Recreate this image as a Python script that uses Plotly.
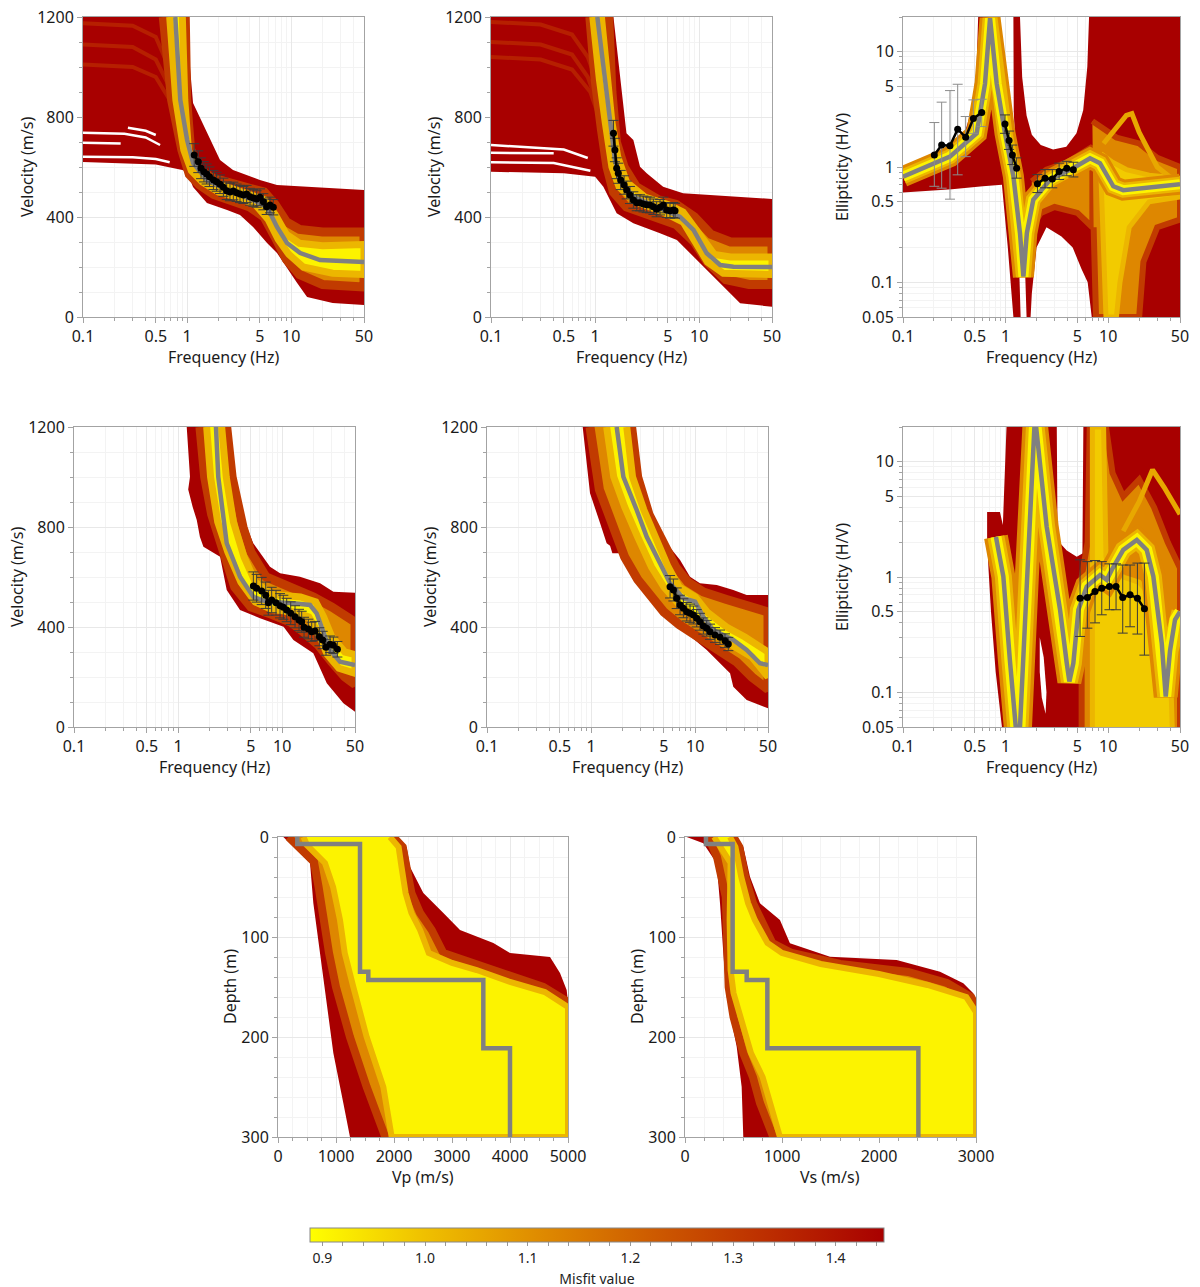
import math
import plotly.graph_objects as go
from plotly.colors import sample_colorscale

W, H = 1200, 1287

# ================= misfit colour scale =================
MISFIT_MIN = 0.888
MISFIT_MAX = 1.447
MISFIT_SCALE = [[0.0, '#ffff00'], [0.2, '#efc000'], [0.4, '#df8b00'],
                [0.6, '#cd5a00'], [0.8, '#bc2d00'], [1.0, '#a80000']]
M_RED, M_MID, M_ORANGE, M_GOLD, M_YELLOW = 1.447, 1.30, 1.12, 1.02, 0.91
M_STREAK = 1.05
M_RED_STREAK = 1.37

# ================= axis ticks =================
FREQ_TICKS = [0.1, 0.5, 1, 5, 10, 50]
FREQ_LABELS = ['0.1', '0.5', '1', '5', '10', '50']
FREQ_MINOR = [0.2, 0.3, 0.4, 0.6, 0.7, 0.8, 0.9, 2, 3, 4, 6, 7, 8, 9, 20, 30, 40]
VEL_TICKS = [0, 400, 800, 1200]
ELL_TICKS = [0.05, 0.1, 0.5, 1, 5, 10]
ELL_LABELS = ['0.05', '0.1', '0.5', '1', '5', '10']
ELL_MINOR = [0.06, 0.07, 0.08, 0.09, 0.2, 0.3, 0.4, 0.6, 0.7, 0.8, 0.9, 2, 3, 4, 6, 7, 8, 9, 20]
DEPTH_TICKS = [0, 100, 200, 300]
VP_TICKS = [0, 1000, 2000, 3000, 4000, 5000]
VS_TICKS = [0, 1000, 2000, 3000]

# ================= panel 1 : dispersion (top left) =================
p1_best_f = [0.77, 0.86, 1.0, 1.14, 1.55, 2.42, 4.3, 5.86, 7.3, 9.1, 12.2, 18.9, 50]
p1_best_v = [1200, 868, 708, 616, 548, 508, 468, 440, 360, 296, 256, 228, 220]
p1_red_up_f = [0.1, 0.97, 1.14, 1.66, 2.07, 2.76, 5.0, 7.3, 50]
p1_red_up_v = [1200, 1200, 856, 708, 628, 588, 548, 528, 508]
p1_red_lo_f = [0.1, 0.5, 0.9, 1.0, 1.14, 1.55, 2.42, 3.22, 4.3, 5.86, 7.3, 11.4, 14.2, 25, 50]
p1_red_lo_v = [620, 610, 588, 580, 520, 456, 428, 408, 360, 296, 256, 136, 80, 56, 48]
p1_or_up_f = [0.96, 0.99, 1.08, 1.3, 1.8, 2.5, 4.0, 5.5, 7.0, 9.0, 12, 20, 50]
p1_or_up_v = [1200, 870, 670, 590, 555, 535, 515, 500, 450, 380, 350, 340, 340]
p1_or_lo_f = [0.59, 0.71, 0.89, 1.05, 1.3, 1.8, 2.5, 4.0, 5.5, 7.0, 9.0, 12, 20, 50]
p1_or_lo_v = [1200, 868, 668, 570, 530, 490, 465, 440, 400, 320, 230, 170, 130, 120]
p1_ye_up_f = [0.9, 0.95, 1.03, 1.2, 1.6, 2.4, 4.0, 5.5, 7.0, 9.0, 12, 20, 50]
p1_ye_up_v = [1200, 868, 668, 590, 545, 522, 495, 470, 410, 330, 295, 285, 290]
p1_ye_lo_f = [0.68, 0.78, 0.93, 1.1, 1.4, 2.0, 3.0, 4.5, 6.0, 7.5, 9.5, 13, 25, 50]
p1_ye_lo_v = [1200, 868, 668, 585, 540, 500, 480, 450, 390, 310, 250, 200, 175, 170]
p1_gaps_f = [[0.27, 0.4, 0.5], [0.1, 0.25, 0.4, 0.55], [0.1, 0.23], [0.1, 0.3, 0.5, 0.68]]
p1_gaps_v = [[757, 745, 728], [737, 733, 718, 688], [697, 694], [641, 639, 632, 619]]
p1_streaks_f = [[0.1, 0.3, 0.5, 0.65, 0.75], [0.1, 0.3, 0.5, 0.66, 0.8], [0.1, 0.3, 0.5, 0.7, 0.82]]
p1_streaks_v = [[1175, 1165, 1120, 1010, 900], [1090, 1080, 1030, 930, 800], [1010, 1000, 960, 860, 760]]
p1_obs_f = [1.17, 1.28, 1.36, 1.45, 1.54, 1.64, 1.79, 1.92, 2.07, 2.23, 2.40, 2.58, 2.78,
            2.99, 3.22, 3.47, 3.73, 4.02, 4.33, 4.66, 5.01, 5.40, 5.81, 6.25, 6.73]
p1_obs_v = [648, 621, 595, 581, 572, 561, 548, 541, 531, 519, 505, 500, 504,
            497, 492, 488, 492, 481, 476, 472, 479, 461, 441, 448, 439]

# ================= panel 2 : dispersion (top middle) =================
p2_best_f = [1.05, 1.2, 1.39, 1.55, 1.73, 2.33, 4.2, 6.5, 8.8, 11.8, 15.9, 21.3, 50]
p2_best_v = [1200, 1001, 801, 628, 548, 481, 435, 401, 348, 255, 208, 201, 200]
p2_red_up_f = [0.1, 1.5, 2.0, 2.33, 2.7, 3.13, 4.5, 7.0, 50]
p2_red_up_v = [1200, 1200, 735, 708, 601, 575, 521, 495, 472]
p2_red_lo_f = [0.1, 0.5, 1.0, 1.2, 1.39, 1.61, 2.33, 4.2, 6.1, 8.8, 12.7, 19.8, 24.7, 50]
p2_red_lo_v = [581, 575, 561, 521, 468, 415, 375, 335, 308, 241, 175, 95, 55, 41]
p2_or_up_f = [1.35, 1.45, 1.6, 1.9, 2.5, 4.0, 6.0, 9.0, 13, 20, 50]
p2_or_up_v = [1200, 900, 700, 600, 520, 470, 450, 400, 330, 300, 300]
p2_or_lo_f = [0.89, 1.0, 1.15, 1.3, 1.5, 2.0, 3.5, 6.0, 9.0, 12, 18, 30, 50]
p2_or_lo_v = [1200, 950, 750, 600, 500, 440, 400, 370, 300, 220, 150, 130, 130]
p2_ye_up_f = [1.15, 1.3, 1.45, 1.65, 2.0, 3.0, 5.0, 7.0, 10, 14, 20, 50]
p2_ye_up_v = [1200, 950, 780, 640, 540, 480, 450, 420, 330, 250, 240, 240]
p2_ye_lo_f = [0.95, 1.1, 1.25, 1.45, 1.7, 2.5, 4.5, 7.0, 9.0, 12, 17, 30, 50]
p2_ye_lo_v = [1200, 950, 780, 600, 520, 460, 420, 380, 300, 220, 175, 170, 170]
p2_gaps_f = [[0.1, 0.5, 0.85], [0.1, 0.4], [0.1, 0.4, 0.9]]
p2_gaps_v = [[688, 670, 636], [657, 655], [619, 616, 585]]
p2_streaks_f = [[0.1, 0.3, 0.6, 0.85, 1.0], [0.1, 0.3, 0.6, 0.85, 1.0], [0.1, 0.3, 0.6, 0.9, 1.05]]
p2_streaks_v = [[1180, 1170, 1130, 1040, 960], [1100, 1090, 1050, 960, 880], [1040, 1030, 990, 900, 820]]
p2_obs_f = [1.50, 1.55, 1.61, 1.67, 1.76, 1.90, 2.01, 2.16, 2.33, 2.51, 2.70,
            2.91, 3.13, 3.37, 3.63, 3.90, 4.20, 4.52, 4.87, 5.24, 5.64, 5.86]
p2_obs_v = [735, 668, 595, 575, 548, 528, 508, 488, 468, 457, 457,
            452, 449, 448, 441, 431, 439, 448, 428, 425, 428, 425]

# ================= panel 3 : ellipticity (top right) =================
p3_best_f = [0.1, 0.287, 0.522, 0.63, 0.705, 0.818, 0.986, 1.19, 1.38, 1.49, 1.61,
             1.86, 2.71, 4.57, 6.65, 8.3, 11.2, 14.0, 50]
p3_best_e = [0.826, 1.23, 1.96, 5.3, 19.5, 5.3, 1.96, 0.83, 0.267, 0.112, 0.267,
             0.52, 0.775, 0.98, 1.19, 1.08, 0.68, 0.63, 0.71]
p3_red1_f = [0.1, 0.1, 0.2, 0.3, 0.4, 0.47, 0.52, 0.54, 0.74, 0.8, 0.9, 1.0, 1.1, 1.2,
             1.28, 1.35, 1.4, 1.19, 1.05, 0.97, 0.92, 0.6, 0.3, 0.1]
p3_red1_e = [0.6, 0.92, 1.08, 1.4, 2.0, 3.2, 7, 20, 20, 8, 4, 2.2, 1.4, 0.8,
             0.4, 0.15, 0.05, 0.05, 0.2, 0.45, 0.7, 0.68, 0.64, 0.6]
p3_red2_f = [1.19, 1.38, 1.45, 1.6, 1.8, 2.2, 2.9, 3.9, 4.9, 5.7, 6.25, 6.5, 50, 50,
             6.9, 6.3, 5.5, 4.5, 3.5, 2.5, 2.0, 1.8, 1.75, 1.6, 1.5, 1.35, 1.25, 1.2]
p3_red2_e = [20, 20, 6, 2.8, 1.9, 1.55, 1.42, 1.5, 1.96, 3.1, 7.4, 20, 20, 0.05,
             0.05, 0.1, 0.13, 0.2, 0.25, 0.3, 0.2, 0.08, 0.05, 0.05, 0.3, 0.8, 1.4, 3]
p3_or_mid_f = [1.8, 2.5, 4.0, 5.5, 7.0, 7.0, 5.0, 3.0, 2.2, 1.8]
p3_or_mid_e = [0.75, 0.95, 1.1, 1.3, 1.5, 0.3, 0.4, 0.45, 0.4, 0.3]
p3_or_right_f = [7, 8.5, 12, 20, 30, 50, 50, 30, 22, 20, 7.6, 7.2]
p3_or_right_e = [2.5, 2.2, 1.8, 1.6, 1.2, 1.0, 0.35, 0.3, 0.15, 0.05, 0.05, 0.3]
p3_ye_right_f = [8.5, 11, 15, 25, 50, 50, 25, 16, 13, 12, 9.5, 9, 8.5]
p3_ye_right_e = [1.3, 1.1, 0.95, 0.85, 0.8, 0.55, 0.5, 0.3, 0.1, 0.05, 0.05, 0.3, 0.8]
p3_streak_f = [9, 12, 15, 17, 20, 30, 50]
p3_streak_e = [1.6, 2.2, 2.8, 2.9, 2.0, 1.0, 0.7]
p3_obs1_f = [0.202, 0.238, 0.287, 0.341, 0.408, 0.485, 0.585]
p3_obs1_e = [1.27, 1.55, 1.53, 2.13, 1.81, 2.63, 2.97]
p3_obs1_hi = [2.43, 3.65, 4.6, 5.22, 2.74, 3.82, 3.87]
p3_obs1_lo = [0.68, 0.655, 0.526, 0.855, 1.23, 1.96, 2.24]
p3_obs2_f = [0.986, 1.08, 1.163, 1.28]
p3_obs2_e = [2.36, 1.70, 1.27, 0.977]
p3_obs2_hi = [2.83, 2.05, 1.55, 1.2]
p3_obs2_lo = [1.96, 1.42, 1.05, 0.8]
p3_obs3_f = [2.04, 2.42, 2.85, 3.32, 3.94, 4.57]
p3_obs3_e = [0.715, 0.80, 0.785, 0.915, 0.977, 0.945]
p3_obs3_hi = [0.86, 0.95, 0.95, 1.08, 1.12, 1.10]
p3_obs3_lo = [0.6, 0.66, 0.66, 0.78, 0.84, 0.82]

# ================= panel 4 : dispersion (middle left) =================
p4_best_f = [2.31, 2.43, 2.93, 3.93, 5.27, 7.1, 12.8, 18.5, 21.4, 24.8, 28.8, 35.9, 50]
p4_best_v = [1200, 1001, 735, 601, 521, 501, 495, 488, 455, 388, 308, 261, 248]
p4_red_up_f = [2.93, 3.39, 4.56, 5.27, 7.63, 9.53, 14.8, 23.1, 31, 50]
p4_red_up_v = [1200, 1001, 801, 735, 641, 615, 601, 575, 541, 537]
p4_red_lo_f = [1.21, 1.30, 1.25, 1.38, 1.51, 1.62, 1.75, 2.53, 2.93, 3.93, 6.12, 10.3, 12.8, 19.9, 26.8, 38.7, 50]
p4_red_lo_v = [1200, 1001, 950, 880, 828, 760, 721, 681, 548, 468, 435, 401, 348, 295, 175, 95, 61]
p4_or_up_f = [2.93, 3.3, 4.2, 5.0, 7.0, 12, 20, 30, 50]
p4_or_up_v = [1200, 1000, 800, 700, 600, 560, 520, 480, 420]
p4_or_lo_f = [1.62, 1.8, 2.1, 2.6, 3.5, 5, 8, 12, 16, 22, 30, 40, 50]
p4_or_lo_v = [1200, 1000, 850, 720, 560, 480, 450, 420, 380, 330, 260, 200, 170]
p4_ye_up_f = [2.62, 2.9, 3.4, 4.3, 5.5, 8, 15, 21, 25, 30, 40, 50]
p4_ye_up_v = [1200, 1000, 820, 680, 580, 530, 520, 500, 440, 360, 300, 290]
p4_ye_lo_f = [1.88, 2.05, 2.4, 3.0, 4.0, 5.5, 8, 13, 18, 22, 27, 35, 50]
p4_ye_lo_v = [1200, 1000, 820, 700, 580, 500, 470, 460, 440, 380, 290, 235, 215]
p4_obs_f = [5.28, 5.68, 6.35, 6.94, 7.36, 7.92, 8.72, 9.52, 10.25, 11.04, 12.06, 13.27,
            14.50, 15.38, 16.20, 17.82, 19.19, 20.65, 22.74, 24.47, 26.34, 28.79, 30.99, 33.86]
p4_obs_v = [564, 555, 544, 527, 497, 508, 497, 485, 479, 468, 455, 441,
            428, 421, 399, 392, 381, 384, 361, 348, 319, 331, 327, 311]

# ================= panel 5 : dispersion (middle centre) =================
p5_best_f = [1.76, 2.04, 2.74, 3.42, 4.59, 5.73, 7.69, 9.96, 11.97, 14.9, 23.2, 31.2, 41.9, 50]
p5_best_v = [1200, 1001, 868, 761, 655, 575, 515, 501, 441, 388, 348, 308, 255, 248]
p5_red_up_f = [2.54, 2.95, 3.96, 5.32, 7.15, 8.91, 11.1, 16.1, 23.2, 31.2, 50]
p5_red_up_v = [1200, 1001, 828, 735, 668, 601, 575, 568, 548, 528, 528]
p5_red_lo_f = [0.83, 0.976, 1.22, 1.41, 1.52, 1.6, 1.9, 2.54, 3.42, 4.59, 6.17, 8.28,
               12.9, 17.3, 21.6, 23.2, 31.2, 50]
p5_red_lo_v = [1200, 935, 815, 735, 725, 695, 695, 628, 548, 481, 428, 375,
               308, 255, 215, 161, 108, 75]
p5_or_up_f = [2.45, 2.8, 3.6, 4.8, 6.5, 8.5, 12, 20, 35, 50]
p5_or_up_v = [1200, 1000, 850, 740, 640, 580, 540, 510, 480, 460]
p5_or_lo_f = [0.976, 1.2, 1.6, 2.1, 2.8, 3.8, 5, 7, 10, 15, 25, 35, 50]
p5_or_lo_v = [1200, 950, 800, 680, 590, 520, 460, 410, 370, 320, 260, 200, 150]
p5_ye_up_f = [2.20, 2.5, 3.2, 4.2, 5.5, 7, 10, 13, 20, 30, 50]
p5_ye_up_v = [1200, 1000, 870, 760, 640, 560, 520, 460, 400, 360, 300]
p5_ye_lo_f = [1.41, 1.65, 2.1, 2.8, 3.8, 5, 7, 10, 14, 22, 35, 50]
p5_ye_lo_v = [1200, 1000, 880, 760, 640, 560, 490, 440, 380, 330, 280, 200]
p5_obs_f = [5.73, 6.17, 6.64, 7.15, 7.70, 8.29, 8.92, 9.60, 10.33, 11.12, 11.97,
            12.89, 13.88, 15.49, 17.30, 19.31, 20.79]
p5_obs_v = [561, 548, 515, 488, 475, 461, 455, 448, 435, 421, 404,
            395, 381, 368, 359, 345, 332]

# ================= panel 6 : ellipticity (middle right) =================
p6_best_f = [0.805, 0.95, 1.10, 1.26, 1.32, 1.38, 1.61, 1.80, 1.93, 2.51, 3.39, 3.94, 4.18,
             4.57, 5.12, 6.17, 8.32, 9.66, 10.8, 14.0, 18.97, 23.7, 27.5, 33.2, 36.3, 40, 44.7, 50]
p6_best_e = [2.23, 1.01, 0.19, 0.05, 0.03, 0.05, 1.01, 7.4, 25, 2.74, 0.52, 0.179, 0.124,
             0.179, 0.52, 0.826, 1.04, 0.945, 1.15, 1.72, 2.10, 1.72, 1.01, 0.267, 0.092, 0.23, 0.426, 0.50]
p6_red_f = [0.66, 0.74, 0.8, 0.88, 0.94, 1.02, 3.15, 3.2, 3.4, 3.94, 4.93, 5.6, 5.72, 50, 50,
            0.92, 0.8, 0.72, 0.68, 0.66]
p6_red_e = [3.67, 3.67, 3.67, 3.67, 2.83, 20, 20, 2.8, 1.96, 1.7, 1.5, 1.6, 20, 20, 0.05,
            0.05, 0.15, 0.5, 1.2, 2.2]
p6_or_f = [5.5, 5.5, 6.3, 6.6, 9.5, 11, 14, 20, 28, 38, 50, 50]
p6_or_e = [0.05, 1.0, 2.0, 20, 20, 8, 5, 7, 4, 2, 1.2, 0.05]
p6_ye_f = [7, 7, 9, 9.5, 11, 14, 20, 30, 40, 42]
p6_ye_e = [0.05, 20, 20, 1.5, 1.2, 1.0, 0.9, 0.6, 0.2, 0.05]
p6_gap_f = [2.15, 2.35, 2.5, 2.45, 2.25, 2.15]
p6_gap_e = [0.3, 0.2, 0.1, 0.065, 0.09, 0.15]
p6_streak_f = [14, 20, 27, 35, 50]
p6_streak_e = [2.5, 4.5, 8.5, 6, 3.5]
p6_obs_f = [5.31, 6.26, 7.43, 8.64, 10.26, 11.91, 13.83, 16.31, 19.23, 22.5]
p6_obs_e = [0.655, 0.664, 0.748, 0.80, 0.826, 0.826, 0.664, 0.70, 0.655, 0.53]
p6_obs_hi = [1.41, 1.36, 1.39, 1.36, 1.30, 1.30, 1.27, 1.27, 1.32, 1.32]
p6_obs_lo = [0.305, 0.36, 0.40, 0.47, 0.52, 0.52, 0.326, 0.37, 0.32, 0.21]

# ================= panels 7/8 : ground profiles =================
best_layer_top = [0, 7, 134.7, 143, 211.3]
best_half_bottom = 300
p7_best_vp = [333, 1414, 1557, 3540, 4000]
p8_best_vs = [216, 491, 636, 849, 2406]

p7_red_left_vp = [92, 264, 552, 609, 724, 839, 954, 1126, 1241]
p7_red_left_d = [0, 9.7, 26, 66, 116, 166, 216, 266, 300]
p7_red_right_vp = [2046, 2218, 2276, 2506, 2851, 3138, 3713, 4000, 4690, 4862, 4977, 5000, 5000]
p7_red_right_d = [0, 10, 30, 56, 76, 93, 106, 116, 120, 136, 153, 165, 300]
p7_or_left_vp = [180, 330, 620, 700, 780, 880, 1000, 1241, 1529, 1850]
p7_or_left_d = [0, 8, 25, 50, 83, 116, 150, 200, 250, 300]
p7_or_right_vp = [1990, 2150, 2200, 2300, 2450, 2650, 2851, 3300, 3713, 4575, 5000, 5000]
p7_or_right_d = [0, 10, 30, 56, 76, 93, 116, 126, 133, 150, 165, 300]
p7_ye_left_vp = [440, 500, 810, 950, 1069, 1150, 1299, 1529, 1816, 1960]
p7_ye_left_d = [0, 8, 26, 50, 83, 116, 150, 200, 250, 300]
p7_ye_right_vp = [1931, 2080, 2130, 2200, 2300, 2450, 2600, 3000, 3425, 4000, 4600, 5000, 5000]
p7_ye_right_d = [0, 10, 30, 56, 76, 93, 116, 126, 133, 145, 155, 170, 300]

p8_red_left_vs = [17, 189, 326, 361, 395, 430, 533, 584, 601]
p8_red_left_d = [0, 6.3, 26.3, 66.3, 116.3, 159.7, 209.7, 249.7, 300]
p8_red_right_vs = [533, 601, 670, 773, 979, 1082, 1495, 2182, 2629, 2869, 2972, 3000, 3000]
p8_red_right_d = [0, 9.7, 39.7, 66.3, 83, 106.3, 119.7, 123, 134.7, 146.3, 156.3, 163, 300]
p8_or_left_vs = [240, 330, 420, 430, 450, 500, 600, 700, 773, 910]
p8_or_left_d = [0, 20, 60, 116, 150, 180, 216, 240, 266, 300]
p8_or_right_vs = [500, 560, 620, 700, 773, 900, 1100, 1600, 2300, 2700, 2950, 3000, 3000]
p8_or_right_d = [0, 10, 40, 66, 83, 106, 116, 127, 135, 146, 160, 170, 300]
p8_ye_left_vs = [300, 470, 460, 470, 500, 600, 680, 800, 876, 979]
p8_ye_left_d = [0, 26, 83, 133, 156, 190, 216, 240, 266, 300]
p8_ye_right_vs = [464, 520, 580, 650, 720, 850, 1000, 1400, 2000, 2500, 2900, 3000, 3000]
p8_ye_right_d = [0, 10, 40, 66, 83, 106, 116, 127, 137, 148, 160, 175, 300]

# ================= layout geometry (pixels) =================
PANELS = {
    1: ((83, 364), (17, 317)),
    2: ((491, 772), (17, 317)),
    3: ((903, 1180), (17, 317)),
    4: ((74, 355), (427, 727)),
    5: ((487, 768), (427, 727)),
    6: ((903, 1180), (427, 727)),
    7: ((278, 568), (837, 1137)),
    8: ((685, 976), (837, 1137)),
}
FONT = 'Noto Sans, Open Sans, DejaVu Sans, sans-serif'
LINE = '#a3a3a3'
GRID = '#e8e8e8'
MGRID = '#f3f3f3'
GRAY = '#808080'

fig = go.Figure()


def xr(i):
    return 'x' if i == 1 else f'x{i}'


def yr(i):
    return 'y' if i == 1 else f'y{i}'


def mcol(m):
    t = (m - MISFIT_MIN) / (MISFIT_MAX - MISFIT_MIN)
    t = min(max(t, 0.0), 1.0)
    return sample_colorscale(MISFIT_SCALE, [t])[0]


def poly(i, xs, ys, color, edge=None, edge_w=0):
    fig.add_trace(go.Scatter(x=list(xs), y=list(ys), mode='lines', fill='toself',
                             fillcolor=color, line=dict(width=edge_w, color=edge or color),
                             xaxis=xr(i), yaxis=yr(i), hoverinfo='skip', showlegend=False))


def band(i, ux, uy, lx, ly, m, edge_m=None, edge_w=0):
    poly(i, list(ux) + list(lx)[::-1], list(uy) + list(ly)[::-1], mcol(m),
         mcol(edge_m) if edge_m else None, edge_w)


def line(i, xs, ys, color, width, shape='linear'):
    fig.add_trace(go.Scatter(x=list(xs), y=list(ys), mode='lines',
                             line=dict(color=color, width=width, shape=shape),
                             xaxis=xr(i), yaxis=yr(i), hoverinfo='skip', showlegend=False))


def obs_pct(i, xs, ys, pct):
    fig.add_trace(go.Scatter(x=xs, y=ys, mode='lines+markers',
                             line=dict(color='black', width=2.5),
                             marker=dict(color='black', size=7),
                             error_y=dict(type='percent', value=pct, color='#3a3a3a',
                                          thickness=1, width=5),
                             xaxis=xr(i), yaxis=yr(i), hoverinfo='skip', showlegend=False))


def obs_arr(i, xs, ys, hi, lo, ecol):
    fig.add_trace(go.Scatter(x=xs, y=ys, mode='lines+markers',
                             line=dict(color='black', width=2.5),
                             marker=dict(color='black', size=7),
                             error_y=dict(type='data', symmetric=False,
                                          array=[h - v for h, v in zip(hi, ys)],
                                          arrayminus=[v - l for l, v in zip(lo, ys)],
                                          color=ecol, thickness=1, width=5),
                             xaxis=xr(i), yaxis=yr(i), hoverinfo='skip', showlegend=False))


# ---------- dispersion panels ----------
for i, d in [(1, dict(ru=(p1_red_up_f, p1_red_up_v), rl=(p1_red_lo_f, p1_red_lo_v),
                      ou=(p1_or_up_f, p1_or_up_v), ol=(p1_or_lo_f, p1_or_lo_v),
                      yu=(p1_ye_up_f, p1_ye_up_v), yl=(p1_ye_lo_f, p1_ye_lo_v),
                      best=(p1_best_f, p1_best_v), gaps=(p1_gaps_f, p1_gaps_v),
                      streaks=(p1_streaks_f, p1_streaks_v),
                      obs=(p1_obs_f, p1_obs_v), pct=7)),
             (2, dict(ru=(p2_red_up_f, p2_red_up_v), rl=(p2_red_lo_f, p2_red_lo_v),
                      ou=(p2_or_up_f, p2_or_up_v), ol=(p2_or_lo_f, p2_or_lo_v),
                      yu=(p2_ye_up_f, p2_ye_up_v), yl=(p2_ye_lo_f, p2_ye_lo_v),
                      best=(p2_best_f, p2_best_v), gaps=(p2_gaps_f, p2_gaps_v),
                      streaks=(p2_streaks_f, p2_streaks_v),
                      obs=(p2_obs_f, p2_obs_v), pct=7)),
             (4, dict(ru=(p4_red_up_f, p4_red_up_v), rl=(p4_red_lo_f, p4_red_lo_v),
                      ou=(p4_or_up_f, p4_or_up_v), ol=(p4_or_lo_f, p4_or_lo_v),
                      yu=(p4_ye_up_f, p4_ye_up_v), yl=(p4_ye_lo_f, p4_ye_lo_v),
                      best=(p4_best_f, p4_best_v), gaps=([], []), streaks=([], []),
                      obs=(p4_obs_f, p4_obs_v), pct=10)),
             (5, dict(ru=(p5_red_up_f, p5_red_up_v), rl=(p5_red_lo_f, p5_red_lo_v),
                      ou=(p5_or_up_f, p5_or_up_v), ol=(p5_or_lo_f, p5_or_lo_v),
                      yu=(p5_ye_up_f, p5_ye_up_v), yl=(p5_ye_lo_f, p5_ye_lo_v),
                      best=(p5_best_f, p5_best_v), gaps=([], []), streaks=([], []),
                      obs=(p5_obs_f, p5_obs_v), pct=8))]:
    band(i, *d['ru'], *d['rl'], M_RED)
    for sx, sy in zip(*d['streaks']):
        line(i, sx, sy, mcol(M_RED_STREAK), 4)
    for gx, gy in zip(*d['gaps']):
        line(i, gx, gy, 'white', 2.5)
    band(i, *d['ou'], *d['ol'], M_ORANGE, M_MID, 9)
    band(i, *d['yu'], *d['yl'], M_YELLOW, M_GOLD, 7)
    line(i, *d['best'], GRAY, 4.5)
    obs_pct(i, *d['obs'], d['pct'])

# ---------- ellipticity panel 3 ----------
poly(3, p3_red1_f, p3_red1_e, mcol(M_RED))
poly(3, p3_red2_f, p3_red2_e, mcol(M_RED))
poly(3, p3_or_mid_f, p3_or_mid_e, mcol(M_ORANGE), mcol(M_MID), 6)
poly(3, p3_or_right_f, p3_or_right_e, mcol(M_ORANGE), mcol(M_MID), 6)
poly(3, p3_ye_right_f, p3_ye_right_e, mcol(0.98), mcol(M_GOLD), 5)
line(3, p3_streak_f, p3_streak_e, mcol(M_STREAK), 5)
line(3, p3_best_f, p3_best_e, mcol(M_ORANGE), 21)
line(3, p3_best_f, p3_best_e, mcol(M_GOLD), 15)
line(3, p3_best_f, p3_best_e, mcol(M_YELLOW), 10)
line(3, p3_best_f, p3_best_e, GRAY, 4.5)
obs_arr(3, p3_obs1_f, p3_obs1_e, p3_obs1_hi, p3_obs1_lo, '#8c8c8c')
obs_arr(3, p3_obs2_f, p3_obs2_e, p3_obs2_hi, p3_obs2_lo, '#3a3a3a')
obs_arr(3, p3_obs3_f, p3_obs3_e, p3_obs3_hi, p3_obs3_lo, '#3a3a3a')

# ---------- ellipticity panel 6 ----------
poly(6, p6_red_f, p6_red_e, mcol(M_RED))
poly(6, p6_or_f, p6_or_e, mcol(M_ORANGE), mcol(M_MID), 6)
poly(6, p6_ye_f, p6_ye_e, mcol(0.98), mcol(M_GOLD), 5)
poly(6, p6_gap_f, p6_gap_e, 'white')
line(6, p6_streak_f, p6_streak_e, mcol(M_STREAK), 5)
line(6, p6_best_f, p6_best_e, mcol(M_ORANGE), 24)
line(6, p6_best_f, p6_best_e, mcol(M_GOLD), 17)
line(6, p6_best_f, p6_best_e, mcol(M_YELLOW), 11)
line(6, p6_best_f, p6_best_e, GRAY, 4.5)
obs_arr(6, p6_obs_f, p6_obs_e, p6_obs_hi, p6_obs_lo, '#3a3a3a')

# ---------- profiles ----------
for i, rl, rr, ol, orr, yl, yrr, best in [
        (7, (p7_red_left_vp, p7_red_left_d), (p7_red_right_vp, p7_red_right_d),
         (p7_or_left_vp, p7_or_left_d), (p7_or_right_vp, p7_or_right_d),
         (p7_ye_left_vp, p7_ye_left_d), (p7_ye_right_vp, p7_ye_right_d), p7_best_vp),
        (8, (p8_red_left_vs, p8_red_left_d), (p8_red_right_vs, p8_red_right_d),
         (p8_or_left_vs, p8_or_left_d), (p8_or_right_vs, p8_or_right_d),
         (p8_ye_left_vs, p8_ye_left_d), (p8_ye_right_vs, p8_ye_right_d), p8_best_vs)]:
    band(i, *rl, *rr, M_RED)
    band(i, *ol, *orr, M_ORANGE, M_MID, 8)
    band(i, *yl, *yrr, M_YELLOW, M_GOLD, 6)
    line(i, list(best) + [best[-1]], list(best_layer_top) + [best_half_bottom], GRAY, 4.5, shape='vh')

# ---------- colour bar ----------
cb_ticks = [round(0.9 + 0.02 * k, 2) for k in range(28)]
cb_text = [(f'{t:.1f}' if abs(t * 10 - round(t * 10)) < 1e-6 else '') for t in cb_ticks]
fig.add_trace(go.Scatter(
    x=[None], y=[None], mode='markers', hoverinfo='skip', showlegend=False,
    marker=dict(color=[MISFIT_MIN], colorscale=MISFIT_SCALE, cmin=MISFIT_MIN, cmax=MISFIT_MAX,
                showscale=True,
                colorbar=dict(orientation='h', x=(310 + 884) / 2 / W, xanchor='center',
                              y=1 - 1228 / H, yanchor='top', len=574 / W, lenmode='fraction',
                              thickness=14, outlinewidth=1, outlinecolor='#888',
                              xpad=0, ypad=0,
                              tickmode='array', tickvals=cb_ticks, ticktext=cb_text,
                              ticks='outside', ticklen=4, tickcolor='#999',
                              tickfont=dict(family=FONT, size=14, color='#222'),
                              title=dict(text='Misfit value', side='bottom',
                                         font=dict(family=FONT, size=14, color='#222'))))))

# ---------- axes ----------
tickfont = dict(family=FONT, size=16, color='#1a1a1a')


def base(dom, anchor):
    return dict(domain=dom, anchor=anchor, showline=True, linecolor=LINE, linewidth=1, mirror=True,
                ticks='outside', ticklen=5, tickcolor=LINE, tickfont=tickfont, automargin=False,
                showgrid=True, gridcolor=GRID, zeroline=False, layer='above traces')


layout = {}
for i, ((x0, x1), (y0, y1)) in PANELS.items():
    xd = [x0 / W, x1 / W]
    yd = [1 - y1 / H, 1 - y0 / H]
    xa = base(xd, yr(i))
    ya = base(yd, xr(i))
    if i in (1, 2, 3, 4, 5, 6):
        xa.update(type='log', range=[-1, math.log10(50)], tickmode='array',
                  tickvals=FREQ_TICKS, ticktext=FREQ_LABELS,
                  minor=dict(tickmode='array', tickvals=FREQ_MINOR, ticks='outside', ticklen=3,
                             tickcolor=LINE, showgrid=True, gridcolor=MGRID))
    if i in (1, 2, 4, 5):
        ya.update(range=[0, 1200], tickmode='array', tickvals=VEL_TICKS,
                  minor=dict(dtick=100, ticks='outside', ticklen=3, tickcolor=LINE,
                             showgrid=True, gridcolor=MGRID))
    if i in (3, 6):
        ya.update(type='log', range=[math.log10(0.05), math.log10(20)], tickmode='array',
                  tickvals=ELL_TICKS, ticktext=ELL_LABELS,
                  minor=dict(tickmode='array', tickvals=ELL_MINOR, ticks='outside', ticklen=3,
                             tickcolor=LINE, showgrid=True, gridcolor=MGRID))
    if i in (7, 8):
        ya.update(range=[300, 0], tickmode='array', tickvals=DEPTH_TICKS,
                  minor=dict(dtick=20, ticks='outside', ticklen=3, tickcolor=LINE,
                             showgrid=True, gridcolor=MGRID))
    if i == 7:
        xa.update(range=[0, 5000], tickmode='array', tickvals=VP_TICKS,
                  minor=dict(dtick=250, ticks='outside', ticklen=3, tickcolor=LINE,
                             showgrid=True, gridcolor=MGRID))
    if i == 8:
        xa.update(range=[0, 3000], tickmode='array', tickvals=VS_TICKS,
                  minor=dict(dtick=200, ticks='outside', ticklen=3, tickcolor=LINE,
                             showgrid=True, gridcolor=MGRID))
    layout['xaxis' if i == 1 else f'xaxis{i}'] = xa
    layout['yaxis' if i == 1 else f'yaxis{i}'] = ya

# ---------- axis titles as annotations ----------
TITLE_FONT = dict(family=FONT, size=16, color='#1a1a1a')
xtitles = [(223, 357, 'Frequency (Hz)'), (631, 357, 'Frequency (Hz)'), (1041, 357, 'Frequency (Hz)'),
           (214, 767, 'Frequency (Hz)'), (627, 767, 'Frequency (Hz)'), (1041, 767, 'Frequency (Hz)'),
           (423, 1177, 'Vp (m/s)'), (830, 1177, 'Vs (m/s)')]
ytitles = [(27, 167, 'Velocity (m/s)'), (434, 167, 'Velocity (m/s)'), (842, 167, 'Ellipticity (H/V)'),
           (17, 577, 'Velocity (m/s)'), (430, 577, 'Velocity (m/s)'), (842, 577, 'Ellipticity (H/V)'),
           (230, 987, 'Depth (m)'), (637, 987, 'Depth (m)')]
ann = []
for x, y, t in xtitles:
    ann.append(dict(x=x / W, y=1 - y / H, xref='paper', yref='paper', text=t, showarrow=False,
                    xanchor='center', yanchor='middle', font=TITLE_FONT))
for x, y, t in ytitles:
    ann.append(dict(x=x / W, y=1 - y / H, xref='paper', yref='paper', text=t, showarrow=False,
                    xanchor='center', yanchor='middle', textangle=-90, font=TITLE_FONT))

fig.update_layout(width=W, height=H, autosize=False,
                  margin=dict(l=0, r=0, t=0, b=0, pad=0, autoexpand=False),
                  paper_bgcolor='white', plot_bgcolor='white', showlegend=False,
                  hovermode=False, annotations=ann, font=dict(family=FONT), **layout)

fig.write_html('out.html', config={'displayModeBar': False, 'staticPlot': True},
               post_script="document.body.style.margin='0px';document.body.style.overflow='hidden';")
